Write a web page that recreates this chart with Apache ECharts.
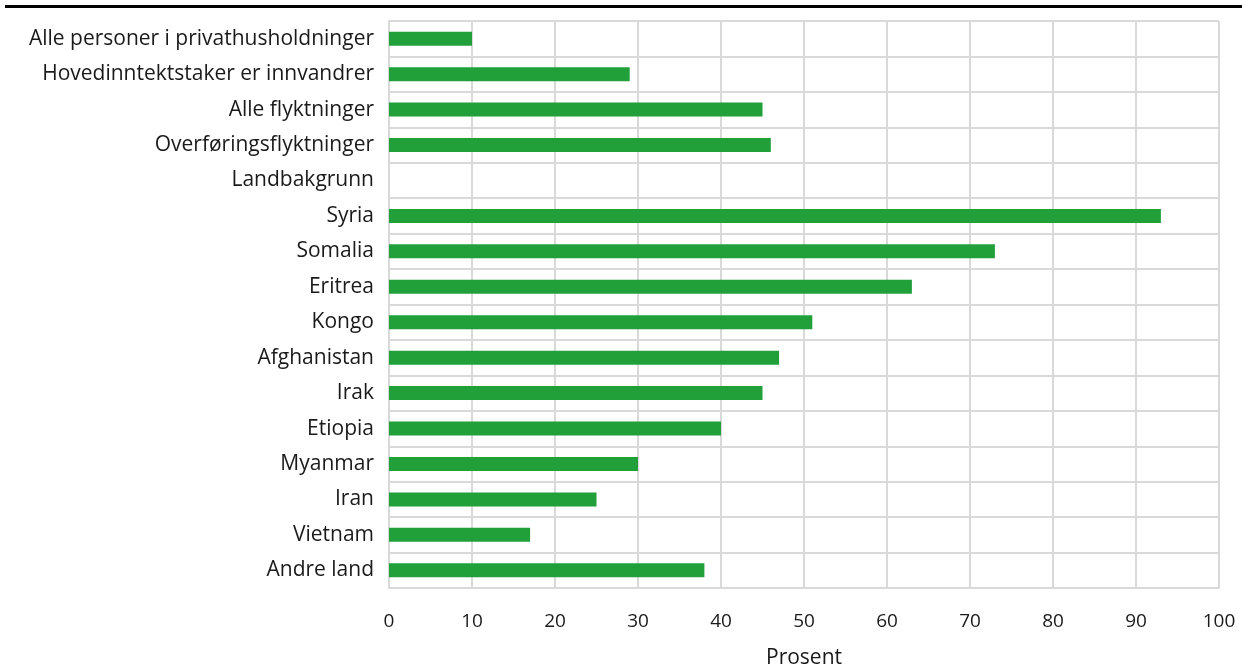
<!DOCTYPE html>
<html>
<head>
<meta charset="utf-8">
<script src="https://cdn.jsdelivr.net/npm/echarts@6/dist/echarts.min.js"></script>
<style>
  html, body { margin: 0; padding: 0; background: #fff; }
  #chart { width: 1242px; height: 666px; }
</style>
</head>
<body>
<div id="chart"></div>
<script>
// kategorier, øverst først
const categories = [
  'Alle personer i privathusholdninger',
  'Hovedinntektstaker er innvandrer',
  'Alle flyktninger',
  'Overføringsflyktninger',
  'Landbakgrunn',
  'Syria',
  'Somalia',
  'Eritrea',
  'Kongo',
  'Afghanistan',
  'Irak',
  'Etiopia',
  'Myanmar',
  'Iran',
  'Vietnam',
  'Andre land'
]
const values = [10, 29, 45, 46, null, 93, 73, 63, 51, 47, 45, 40, 30, 25, 17, 38]
const axisName = 'Prosent'

const chart = echarts.init(document.getElementById('chart'))
const gridColor = '#d9d9d9'
const textColor = '#1a1a1a'

chart.setOption({
  animation: false,
  textStyle: { fontFamily: 'Open Sans' },
  grid: { left: 389, right: 23, top: 21, bottom: 78, containLabel: false, outerBoundsMode: 'none' },
  graphic: [{
    type: 'rect',
    shape: { x: 5, y: 5, width: 1237, height: 3 },
    style: { fill: '#000' }
  }],
  xAxis: {
    type: 'value',
    min: 0,
    max: 100,
    interval: 10,
    name: axisName,
    nameLocation: 'middle',
    nameGap: 60,
    nameTextStyle: { fontSize: 21, color: textColor },
    axisLine: { show: true, lineStyle: { color: gridColor, width: 2 } },
    axisTick: { show: false },
    axisLabel: { fontSize: 19, color: textColor, margin: 24 },
    splitLine: { show: true, lineStyle: { color: gridColor, width: 2 } }
  },
  yAxis: {
    type: 'category',
    data: categories,
    inverse: true,
    axisLine: { show: true, lineStyle: { color: gridColor, width: 2 } },
    axisTick: { show: false },
    axisLabel: { fontSize: 21, color: textColor, margin: 15 },
    splitLine: { show: true, interval: 0, lineStyle: { color: gridColor, width: 2 } }
  },
  series: [{
    type: 'bar',
    data: values,
    barWidth: 14,
    itemStyle: { color: '#21a03a' }
  }]
})
</script>
</body>
</html>
